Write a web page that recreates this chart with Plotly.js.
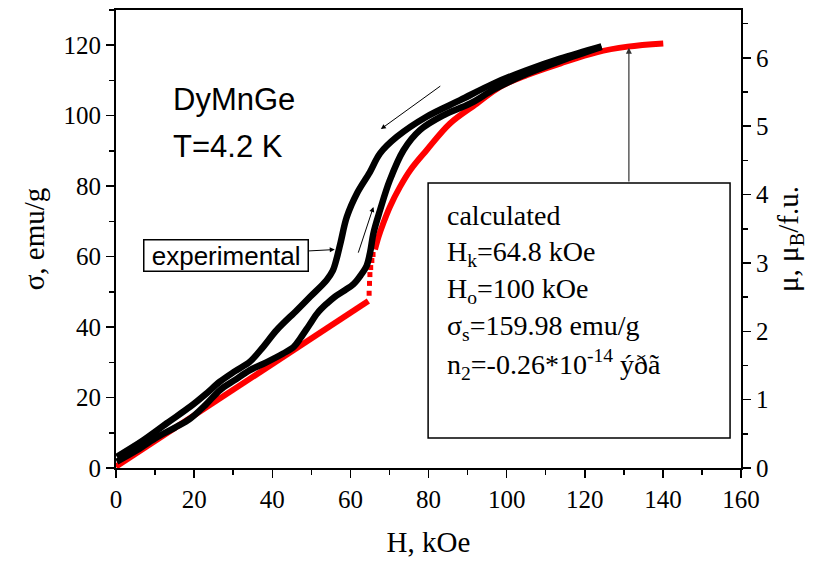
<!DOCTYPE html>
<html>
<head>
<meta charset="utf-8">
<script src="https://cdn.plot.ly/plotly-3.0.1.min.js"></script>
<style>html,body{margin:0;padding:0;background:#fff;}#chart{width:824px;height:567px;}</style>
</head>
<body>
<div id="chart"></div>
<script>
// Experimental, field increasing (lower branch)
const upH = [0.2, 5, 10, 15, 19, 23, 26.6, 30.5, 34.3, 38.5, 42.8, 45.5, 47.3, 49.5, 51.6, 53.9, 56, 58.5, 60.8, 62.5, 64.2, 65.1, 65.9, 67.6, 70.1, 73.6, 77.8, 83.8, 90.6, 97, 105, 114, 124.3];
const upS = [1.8, 4.8, 8.4, 11.4, 14.0, 18.0, 22.1, 25.0, 27.8, 30.0, 32.5, 34.4, 37.0, 40.6, 44.0, 46.6, 48.6, 50.4, 52.2, 54.5, 57.5, 61.5, 66.6, 73.2, 81.7, 90.2, 95.9, 100.1, 103.4, 107.6, 111.8, 115.6, 119.5];
// Experimental, field decreasing (upper branch)
const dnH = [124.3, 113.7, 105.1, 96.6, 88.1, 79.5, 71.9, 67.6, 65, 61.8, 59.1, 57.5, 56.5, 55.5, 53.9, 49.7, 46.3, 41.1, 37.7, 34.3, 30.5, 26.6, 23, 19, 13, 7, 0.2];
const dnS = [119.7, 116.2, 112.9, 109.1, 104.4, 99.7, 94.0, 89.3, 84.0, 78.2, 71.3, 64.0, 59.5, 56.0, 53.3, 48.6, 44.8, 39.1, 34.4, 30.2, 27.5, 24.5, 21.0, 17.4, 12.7, 7.9, 3.2];
// Calculated: linear part below Hk
const linH = [0, 64.6];
const linS = [0.4, 47.4];
// Calculated: jump at Hk
const jumpH = [64.8, 64.9, 65.0, 65.2, 65.5, 65.8];
const jumpS = [49.6, 52.4, 54.9, 56.9, 58.9, 60.6];
// Calculated: above Hk
const curH = [66.3, 67.2, 68.4, 70.1, 72.7, 75.5, 79.5, 85.5, 92.3, 98.3, 105.1, 113.7, 123, 131, 140.1];
const curS = [62.0, 65.6, 69.4, 74.1, 79.8, 84.8, 90.2, 97.8, 103.4, 108.2, 111.5, 114.8, 118.0, 119.6, 120.5];

const xTicks = [0, 20, 40, 60, 80, 100, 120, 140, 160];
const yTicks = [0, 20, 40, 60, 80, 100, 120];
const y2Ticks = [0, 1, 2, 3, 4, 5, 6];

const calcLines = [
  'calculated',
  'H<sub>k</sub>=64.8 kOe',
  'H<sub>o</sub>=100 kOe',
  'σ<sub>s</sub>=159.98 emu/g',
  'n<sub>2</sub>=-0.26*10<sup>-14</sup> ýðã'
];
const calcLineY = [71.6, 60.8, 50.3, 39.8, 29.4];

const serif = 'Liberation Serif, Times New Roman, serif';
const sans = 'Liberation Sans, Arial, sans-serif';

const traces = [
  {x: linH, y: linS, mode: 'lines', line: {color: '#ff0000', width: 6}, hoverinfo: 'skip'},
  {x: jumpH, y: jumpS, mode: 'markers', marker: {color: '#ff0000', symbol: 'square', size: 5}, hoverinfo: 'skip'},
  {x: curH, y: curS, mode: 'lines', line: {color: '#ff0000', width: 6, shape: 'spline'}, hoverinfo: 'skip'},
  {x: upH, y: upS, mode: 'lines', line: {color: '#000', width: 6.5, shape: 'spline'}, hoverinfo: 'skip'},
  {x: dnH, y: dnS, mode: 'lines', line: {color: '#000', width: 6.5, shape: 'spline'}, hoverinfo: 'skip'},
  {x: [0], y: [0], yaxis: 'y2', mode: 'markers', marker: {opacity: 0}, hoverinfo: 'skip'}
];

const annotations = [
  {x: 14.2, y: 104.6, xref: 'x', yref: 'y', text: 'DyMnGe', showarrow: false, xanchor: 'left', yanchor: 'middle', font: {family: sans, size: 31, color: '#000'}},
  {x: 14.2, y: 91.2, xref: 'x', yref: 'y', text: 'T=4.2 K', showarrow: false, xanchor: 'left', yanchor: 'middle', font: {family: sans, size: 31, color: '#000'}},
  {x: 56, y: 62, ax: 28.1, ay: 60.4, xref: 'x', yref: 'y', axref: 'x', ayref: 'y', text: '\u00a0experimental\u00a0', showarrow: true, arrowhead: 2, arrowsize: 1, arrowwidth: 1, arrowcolor: '#000', bordercolor: '#000', borderwidth: 1.5, borderpad: 0, bgcolor: '#fff', font: {family: sans, size: 26, color: '#000'}},
  {x: 67.8, y: 96.2, ax: 83.4, ay: 108.7, xref: 'x', yref: 'y', axref: 'x', ayref: 'y', text: '', showarrow: true, arrowhead: 2, arrowsize: 1, arrowwidth: 1, arrowcolor: '#000'},
  {x: 65.9, y: 74.1, ax: 61.9, ay: 60.7, xref: 'x', yref: 'y', axref: 'x', ayref: 'y', text: '', showarrow: true, arrowhead: 2, arrowsize: 1, arrowwidth: 1, arrowcolor: '#000'},
  {x: 131.3, y: 119.3, ax: 131.3, ay: 80.9, xref: 'x', yref: 'y', axref: 'x', ayref: 'y', text: '', showarrow: true, arrowhead: 2, arrowsize: 1, arrowwidth: 1.2, arrowcolor: '#333'}
];
calcLines.forEach((t, i) => {
  annotations.push({x: 84.2, y: calcLineY[i], xref: 'x', yref: 'y', text: t, showarrow: false, xanchor: 'left', yanchor: 'middle', font: {family: serif, size: 28, color: '#000'}});
});

const layout = {
  width: 824, height: 567,
  margin: {l: 116, r: 83, t: 10, b: 99},
  paper_bgcolor: '#fff', plot_bgcolor: '#fff',
  showlegend: false,
  xaxis: {
    range: [0, 160], tickvals: xTicks, ticktext: xTicks.map(String),
    ticks: 'outside', ticklen: 8, tickwidth: 1.5, tickcolor: '#000',
    minor: {dtick: 10, ticks: 'outside', ticklen: 5, tickwidth: 1.5, tickcolor: '#000'},
    showline: true, linecolor: '#000', linewidth: 2, mirror: true,
    showgrid: false, zeroline: false,
    tickfont: {family: serif, size: 25, color: '#000'},
    title: {text: 'H, kOe', font: {family: serif, size: 29, color: '#000'}, standoff: 20}
  },
  yaxis: {
    range: [0, 130], tickvals: yTicks, ticktext: yTicks.map(String),
    ticks: 'outside', ticklen: 8, tickwidth: 1.5, tickcolor: '#000',
    minor: {dtick: 10, ticks: 'outside', ticklen: 5, tickwidth: 1.5, tickcolor: '#000'},
    showline: true, linecolor: '#000', linewidth: 2,
    showgrid: false, zeroline: false,
    tickfont: {family: serif, size: 25, color: '#000'},
    title: {text: 'σ, emu/g', font: {family: serif, size: 29, color: '#000'}, standoff: 10}
  },
  yaxis2: {
    overlaying: 'y', side: 'right', anchor: 'x',
    range: [0, 6.7], tickvals: y2Ticks, ticktext: y2Ticks.map(String),
    ticks: 'outside', ticklen: 8, tickwidth: 1.5, tickcolor: '#000',
    minor: {dtick: 0.5, ticks: 'outside', ticklen: 5, tickwidth: 1.5, tickcolor: '#000'},
    showline: true, linecolor: '#000', linewidth: 2,
    showgrid: false, zeroline: false,
    tickfont: {family: serif, size: 25, color: '#000'},
    title: {text: 'μ, μ<sub>B</sub>/f.u.', font: {family: serif, size: 29, color: '#000'}, standoff: 10}
  },
  shapes: [
    {type: 'rect', xref: 'x', yref: 'y', x0: 79.9, x1: 157.2, y0: 8.5, y1: 80.9, line: {color: '#000', width: 1.5}, fillcolor: 'rgba(0,0,0,0)'}
  ],
  annotations: annotations
};

Plotly.newPlot('chart', traces, layout, {staticPlot: true, displayModeBar: false});
</script>
</body>
</html>
